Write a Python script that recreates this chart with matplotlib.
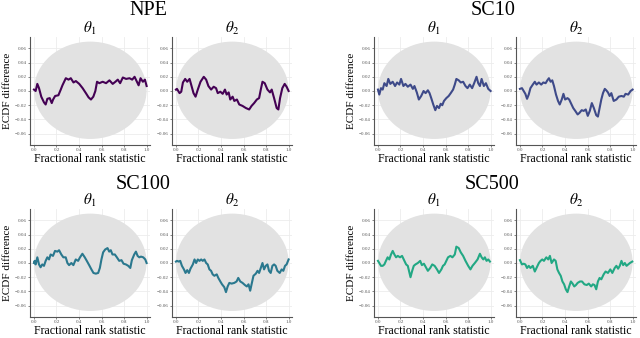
# ECDF difference plots (NPE vs sequential calibration runs), two parameters each.

import matplotlib
matplotlib.use("Agg")
import matplotlib.pyplot as plt
from matplotlib.patches import Ellipse

plt.rcParams["font.family"] = ["Liberation Serif", "DejaVu Serif"]
plt.rcParams["mathtext.fontset"] = "stix"

methods = ["NPE", "SC10", "SC100", "SC500"]
params = [r"$\theta_1$", r"$\theta_2$"]
colors = ["#440154", "#3e4a89", "#2a788e", "#22a884"]

x_ticks = [0.0, 0.2, 0.4, 0.6, 0.8, 1.0]
y_ticks = [-0.06, -0.04, -0.02, 0.00, 0.02, 0.04, 0.06]

# fractional rank (x) and ECDF difference (y)
npe_t1_x = [0.000, 0.015, 0.030, 0.045, 0.065, 0.089, 0.104, 0.119, 0.140, 0.158, 0.170, 0.188,
            0.217, 0.238, 0.253, 0.283, 0.307, 0.327, 0.351, 0.372, 0.402, 0.432, 0.461, 0.485,
            0.506, 0.527, 0.545, 0.560, 0.580, 0.610, 0.640, 0.670, 0.699, 0.723, 0.744, 0.765,
            0.789, 0.818, 0.848, 0.872, 0.893, 0.914, 0.929, 0.946, 0.967, 0.985, 1.000]
npe_t1_y = [0.002, 0.000, 0.010, 0.004, -0.008, -0.016, -0.019, -0.011, -0.010, -0.017, -0.012, -0.007,
            -0.006, 0.002, 0.008, 0.018, 0.016, 0.018, 0.012, 0.014, 0.010, 0.004, -0.003, -0.009,
            -0.012, -0.008, 0.000, 0.013, 0.011, 0.013, 0.011, 0.015, 0.010, 0.013, 0.016, 0.011,
            0.019, 0.017, 0.018, 0.016, 0.020, 0.013, 0.008, 0.018, 0.013, 0.016, 0.007]

npe_t2_x = [0.000, 0.009, 0.032, 0.047, 0.062, 0.082, 0.100, 0.121, 0.135, 0.156, 0.174, 0.194,
            0.218, 0.247, 0.268, 0.288, 0.312, 0.335, 0.356, 0.371, 0.394, 0.415, 0.435, 0.450,
            0.468, 0.482, 0.503, 0.518, 0.541, 0.562, 0.591, 0.621, 0.650, 0.671, 0.694, 0.718,
            0.738, 0.753, 0.768, 0.788, 0.812, 0.835, 0.850, 0.871, 0.894, 0.909, 0.924, 0.944,
            0.965, 0.982, 1.000]
npe_t2_y = [0.002, 0.003, -0.003, -0.001, 0.012, 0.017, 0.013, 0.017, 0.009, -0.003, -0.008, 0.002,
            0.013, 0.020, 0.016, 0.007, 0.002, 0.006, 0.004, -0.003, -0.001, -0.004, 0.002, -0.005,
            -0.002, -0.012, -0.008, -0.014, -0.012, -0.019, -0.021, -0.024, -0.026, -0.021, -0.017, -0.012,
            -0.010, 0.002, 0.013, 0.011, 0.002, -0.002, 0.002, -0.010, -0.024, -0.026, -0.010, 0.004,
            0.010, 0.006, 0.000]

sc10_t1_x = [0.000, 0.012, 0.027, 0.042, 0.057, 0.077, 0.092, 0.110, 0.131, 0.152, 0.170, 0.190,
             0.205, 0.226, 0.244, 0.265, 0.289, 0.310, 0.324, 0.345, 0.363, 0.384, 0.405, 0.423,
             0.443, 0.458, 0.473, 0.491, 0.509, 0.524, 0.542, 0.557, 0.571, 0.586, 0.607, 0.628,
             0.646, 0.667, 0.682, 0.696, 0.717, 0.735, 0.756, 0.777, 0.795, 0.815, 0.836, 0.854,
             0.875, 0.890, 0.905, 0.920, 0.940, 0.958, 0.979, 1.000]
sc10_t1_y = [0.002, -0.005, 0.004, 0.002, 0.011, 0.007, 0.017, 0.010, 0.013, 0.007, 0.012, 0.009,
             0.017, 0.007, 0.010, 0.006, 0.009, 0.003, 0.007, -0.002, -0.012, -0.007, 0.000, -0.003,
             0.001, -0.003, -0.010, -0.019, -0.027, -0.021, -0.024, -0.018, -0.020, -0.014, -0.010, -0.007,
             -0.003, 0.002, 0.009, 0.017, 0.015, 0.012, 0.013, 0.007, 0.004, 0.009, 0.004, 0.011,
             0.020, 0.011, 0.007, 0.017, 0.007, 0.011, 0.003, 0.000]

sc10_t2_x = [0.000, 0.018, 0.033, 0.048, 0.063, 0.078, 0.093, 0.114, 0.132, 0.147, 0.168, 0.189,
             0.207, 0.228, 0.243, 0.257, 0.272, 0.287, 0.302, 0.320, 0.338, 0.353, 0.371, 0.386,
             0.401, 0.422, 0.437, 0.452, 0.473, 0.491, 0.512, 0.527, 0.548, 0.566, 0.584, 0.602,
             0.620, 0.638, 0.656, 0.677, 0.692, 0.707, 0.722, 0.737, 0.753, 0.766, 0.781, 0.796,
             0.811, 0.832, 0.856, 0.877, 0.901, 0.922, 0.937, 0.961, 0.982, 1.000]
sc10_t2_y = [0.003, 0.004, 0.000, -0.004, -0.011, -0.005, 0.004, 0.009, 0.013, 0.009, 0.012, 0.009,
             0.012, 0.011, 0.015, 0.018, 0.013, 0.015, 0.007, -0.005, -0.014, -0.019, -0.012, -0.004,
             -0.012, -0.010, -0.012, -0.017, -0.024, -0.028, -0.033, -0.031, -0.027, -0.028, -0.026, -0.035,
             -0.028, -0.017, -0.024, -0.034, -0.036, -0.024, -0.012, -0.003, 0.003, 0.001, -0.002, -0.007,
             -0.003, -0.014, -0.012, -0.008, -0.007, -0.008, -0.004, -0.005, 0.000, 0.002]

sc100_t1_x = [0.000, 0.006, 0.015, 0.030, 0.045, 0.059, 0.074, 0.089, 0.104, 0.119, 0.134, 0.148,
              0.169, 0.187, 0.208, 0.223, 0.243, 0.261, 0.282, 0.297, 0.312, 0.332, 0.350, 0.371,
              0.392, 0.409, 0.430, 0.451, 0.469, 0.490, 0.510, 0.528, 0.549, 0.570, 0.585, 0.599,
              0.614, 0.632, 0.653, 0.668, 0.682, 0.697, 0.718, 0.736, 0.757, 0.777, 0.795, 0.816,
              0.837, 0.855, 0.869, 0.890, 0.905, 0.920, 0.935, 0.950, 0.970, 0.988, 1.000]
sc100_t1_y = [0.000, 0.003, -0.002, 0.008, -0.002, -0.006, -0.002, -0.004, 0.003, 0.008, 0.005, 0.012,
              0.010, 0.017, 0.016, 0.018, 0.012, 0.008, 0.008, 0.000, -0.003, 0.000, -0.003, 0.005,
              0.003, 0.008, 0.013, 0.008, 0.003, -0.003, -0.009, -0.014, -0.015, -0.014, -0.007, 0.005,
              0.015, 0.019, 0.021, 0.016, 0.018, 0.012, 0.012, 0.008, 0.003, 0.004, -0.001, -0.002,
              -0.004, -0.007, 0.004, 0.012, 0.016, 0.010, 0.008, 0.009, 0.008, 0.005, 0.000]

sc100_t2_x = [0.000, 0.009, 0.024, 0.038, 0.053, 0.071, 0.085, 0.100, 0.115, 0.129, 0.150, 0.165,
              0.179, 0.194, 0.209, 0.224, 0.238, 0.253, 0.268, 0.282, 0.297, 0.312, 0.326, 0.341,
              0.362, 0.376, 0.394, 0.409, 0.429, 0.444, 0.459, 0.474, 0.494, 0.518, 0.538, 0.553,
              0.571, 0.591, 0.612, 0.629, 0.644, 0.659, 0.674, 0.688, 0.709, 0.724, 0.738, 0.753,
              0.768, 0.782, 0.797, 0.812, 0.826, 0.841, 0.856, 0.871, 0.885, 0.900, 0.921, 0.938,
              0.953, 0.968, 0.982, 1.000]
sc100_t2_y = [0.002, 0.003, 0.002, 0.003, -0.004, -0.009, -0.014, -0.010, -0.014, -0.008, -0.002, 0.005,
              0.000, 0.005, 0.003, 0.005, 0.003, 0.005, 0.000, -0.002, -0.009, -0.011, -0.016, -0.018,
              -0.016, -0.021, -0.026, -0.030, -0.034, -0.041, -0.033, -0.028, -0.029, -0.028, -0.026, -0.021,
              -0.026, -0.028, -0.031, -0.033, -0.030, -0.039, -0.028, -0.018, -0.015, -0.011, -0.014, -0.007,
              0.000, -0.009, -0.004, -0.002, -0.011, -0.014, -0.004, -0.002, -0.004, -0.011, -0.014, -0.009,
              -0.011, -0.004, -0.002, 0.005]

sc500_t1_x = [0.000, 0.012, 0.027, 0.042, 0.057, 0.071, 0.086, 0.101, 0.116, 0.131, 0.146, 0.161,
              0.176, 0.196, 0.214, 0.235, 0.250, 0.265, 0.280, 0.289, 0.304, 0.318, 0.333, 0.354,
              0.375, 0.390, 0.408, 0.429, 0.443, 0.464, 0.482, 0.503, 0.524, 0.542, 0.563, 0.577,
              0.592, 0.607, 0.622, 0.643, 0.661, 0.682, 0.696, 0.717, 0.735, 0.756, 0.777, 0.801,
              0.821, 0.839, 0.860, 0.884, 0.905, 0.920, 0.935, 0.949, 0.964, 0.979, 0.994]
sc500_t1_y = [0.003, 0.000, -0.004, -0.004, -0.002, 0.003, 0.008, 0.005, 0.012, 0.017, 0.012, 0.008,
              0.010, 0.008, 0.010, 0.003, -0.002, -0.004, -0.014, -0.020, -0.011, -0.004, -0.002, 0.000,
              0.003, -0.003, -0.001, -0.007, -0.011, -0.007, -0.002, -0.004, -0.009, -0.014, -0.009, -0.004,
              -0.002, 0.003, 0.008, 0.010, 0.008, 0.012, 0.023, 0.021, 0.015, 0.010, 0.003, -0.004,
              -0.009, -0.004, 0.000, 0.005, 0.013, 0.008, 0.005, 0.008, 0.003, 0.005, 0.002]

sc500_t2_x = [0.000, 0.018, 0.033, 0.048, 0.063, 0.078, 0.093, 0.114, 0.132, 0.147, 0.168, 0.183,
              0.198, 0.213, 0.234, 0.251, 0.266, 0.281, 0.302, 0.317, 0.332, 0.347, 0.362, 0.377,
              0.392, 0.407, 0.422, 0.437, 0.452, 0.467, 0.482, 0.497, 0.512, 0.533, 0.551, 0.572,
              0.593, 0.611, 0.632, 0.647, 0.662, 0.677, 0.692, 0.707, 0.722, 0.743, 0.760, 0.781,
              0.802, 0.820, 0.841, 0.856, 0.871, 0.886, 0.901, 0.916, 0.931, 0.946, 0.961, 0.976,
              0.997]
sc500_t2_y = [0.004, -0.002, -0.001, -0.002, -0.007, -0.004, -0.007, -0.004, -0.012, -0.007, 0.000, 0.003,
              0.005, 0.003, 0.008, 0.005, 0.010, 0.000, 0.005, 0.003, -0.009, -0.014, -0.018, -0.026,
              -0.030, -0.037, -0.041, -0.033, -0.026, -0.029, -0.033, -0.031, -0.028, -0.026, -0.026, -0.030,
              -0.031, -0.029, -0.033, -0.030, -0.031, -0.037, -0.026, -0.021, -0.023, -0.016, -0.012, -0.014,
              -0.009, -0.014, -0.007, -0.004, -0.008, -0.004, 0.003, -0.003, 0.000, -0.004, -0.002, 0.000,
              0.002]

series = {
    "NPE": [(npe_t1_x, npe_t1_y), (npe_t2_x, npe_t2_y)],
    "SC10": [(sc10_t1_x, sc10_t1_y), (sc10_t2_x, sc10_t2_y)],
    "SC100": [(sc100_t1_x, sc100_t1_y), (sc100_t2_x, sc100_t2_y)],
    "SC500": [(sc500_t1_x, sc500_t1_y), (sc500_t2_x, sc500_t2_y)],
}

W, H = 640, 338
fig = plt.figure(figsize=(W / 100, H / 100), dpi=100)

# pixel layout of each group: (left of theta1 panel, left of theta2 panel, top, height)
group_pos = {
    "NPE": (30, 172, 37, 108),
    "SC10": (374, 516, 37, 108),
    "SC100": (30, 172, 209, 108),
    "SC500": (374, 516, 209, 108),
}
title_pos = {"NPE": (148, 15), "SC10": (493, 15), "SC100": (143, 189), "SC500": (492, 189)}
panel_w = 120


def tick_fmt(v, decimals):
    s = f"{v:.{decimals}f}"
    return s.replace("-", "\u2212")


for m, color in zip(methods, colors):
    l1, l2, top, h = group_pos[m]
    for j, left in enumerate([l1, l2]):
        ax = fig.add_axes([left / W, 1 - (top + h) / H, panel_w / W, h / H])
        ax.add_patch(Ellipse((0.5, 0.001), 1.0, 0.137, facecolor="#e2e2e2",
                             edgecolor="none", zorder=1))
        xs, ys = series[m][j]
        ax.plot(xs, ys, color=color, lw=1.5, zorder=3)
        ax.set_xlim(-0.035, 1.03)
        ax.set_ylim(-0.076, 0.076)
        ax.set_xticks(x_ticks)
        ax.set_xticklabels([tick_fmt(v, 1) for v in x_ticks])
        ax.set_yticks(y_ticks)
        ax.set_yticklabels([tick_fmt(v, 2) for v in y_ticks])
        ax.tick_params(labelsize=3.6, length=1.2, width=0.5, pad=1,
                       colors="#555555")
        ax.grid(color="#ececec", lw=0.6, zorder=0)
        ax.set_axisbelow(True)
        for s in ["top", "right"]:
            ax.spines[s].set_visible(False)
        for s in ["left", "bottom"]:
            ax.spines[s].set_color("#555555")
            ax.spines[s].set_linewidth(0.8)
        ax.set_title(params[j], fontsize=11, pad=2)
        ax.set_xlabel("Fractional rank statistic", fontsize=8.6, labelpad=0.5)
        if j == 0:
            ax.set_ylabel("ECDF difference", fontsize=8, labelpad=2)
    tx, ty = title_pos[m]
    fig.text(tx / W, 1 - ty / H, m, fontsize=14.5, ha="center", va="baseline")

fig.savefig("out.png", dpi=100)
plt.close(fig)
